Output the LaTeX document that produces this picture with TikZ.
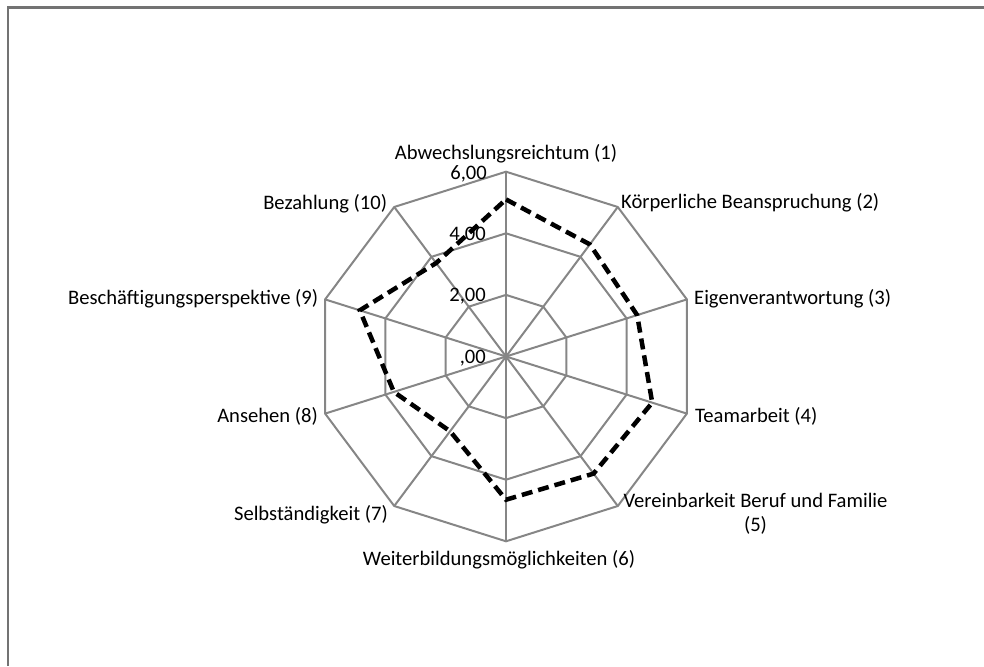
\documentclass[tikz,border=0pt]{standalone}
\usepackage{fontspec}
\setmainfont{Carlito}
\begin{document}
\begin{tikzpicture}[x=1pt,y=-1pt,
  lbl/.style={inner sep=0pt,font=\fontsize{20.6}{24}\selectfont},
  tick/.style={inner sep=0pt,anchor=east,font=\fontsize{20.6}{24}\selectfont},
  grid/.style={draw=gray!95!white,line width=2pt,line join=miter},
  frameline/.style={draw=gray!90!black,line width=2.2pt},
  series/.style={draw=black,line width=4.5pt,dash pattern=on 11pt off 6pt,line join=miter}]
\useasboundingbox (0,0) rectangle (984,666);
\draw[frameline] (8,666) -- (8,7.5) -- (984,7.5);
\begin{scope}[shift={(506,356.5)},x=31.7pt,y=30.8pt]
  % rings
  \foreach \r in {2,4,6}{
    \draw[grid] (90:\r) \foreach \k in {1,...,9}{ -- ({90-36*\k}:\r)} -- cycle;
  }
  % spokes
  \foreach \k in {0,...,9}{
    \draw[grid] (0,0) -- ({90-36*\k}:6);
  }
  % data
  \coordinate (p1) at (90:5.1);
  \coordinate (p2) at (54:4.5);
  \coordinate (p3) at (18:4.35);
  \coordinate (p4) at (-18:4.85);
  \coordinate (p5) at (-54:4.7);
  \coordinate (p6) at (-90:4.65);
  \coordinate (p7) at (-126:3.0);
  \coordinate (p8) at (-162:3.72);
  \coordinate (p9) at (162:4.85);
  \coordinate (p10) at (126:3.75);
  \draw[series] (p1) -- (p2) -- (p3) -- (p4) -- (p5) -- (p6) -- (p7) -- (p8) -- (p9) -- (p10) -- cycle;
\end{scope}
% tick labels
\node[tick] (t6) at (487,174) {6,00};
\node[tick] (t4) at (486,235) {4,00};
\node[tick] (t2) at (486,296.5) {2,00};
\node[tick] (t0) at (486,358.5) {,00};
% axis labels
\node[lbl] (l1) at (506,154) {Abwechslungsreichtum (1)};
\node[lbl,anchor=west] (l2) at (621,202.5) {Körperliche Beanspruchung (2)};
\node[lbl,anchor=west] (l3) at (694,298.5) {Eigenverantwortung (3)};
\node[lbl,anchor=west] (l4) at (695,416.5) {Teamarbeit (4)};
\node[lbl,align=center] (l5) at (755.5,514) {Vereinbarkeit Beruf und Familie\\(5)};
\node[lbl] (l6) at (499,560) {Weiterbildungsmöglichkeiten (6)};
\node[lbl,anchor=east] (l7) at (388,515) {Selbständigkeit (7)};
\node[lbl,anchor=east] (l8) at (318,416.5) {Ansehen (8)};
\node[lbl,anchor=east] (l9) at (318.3,299) {Beschäftigungsperspektive (9)};
\node[lbl,anchor=east] (l10) at (387.3,203.5) {Bezahlung (10)};
\end{tikzpicture}
\end{document}
